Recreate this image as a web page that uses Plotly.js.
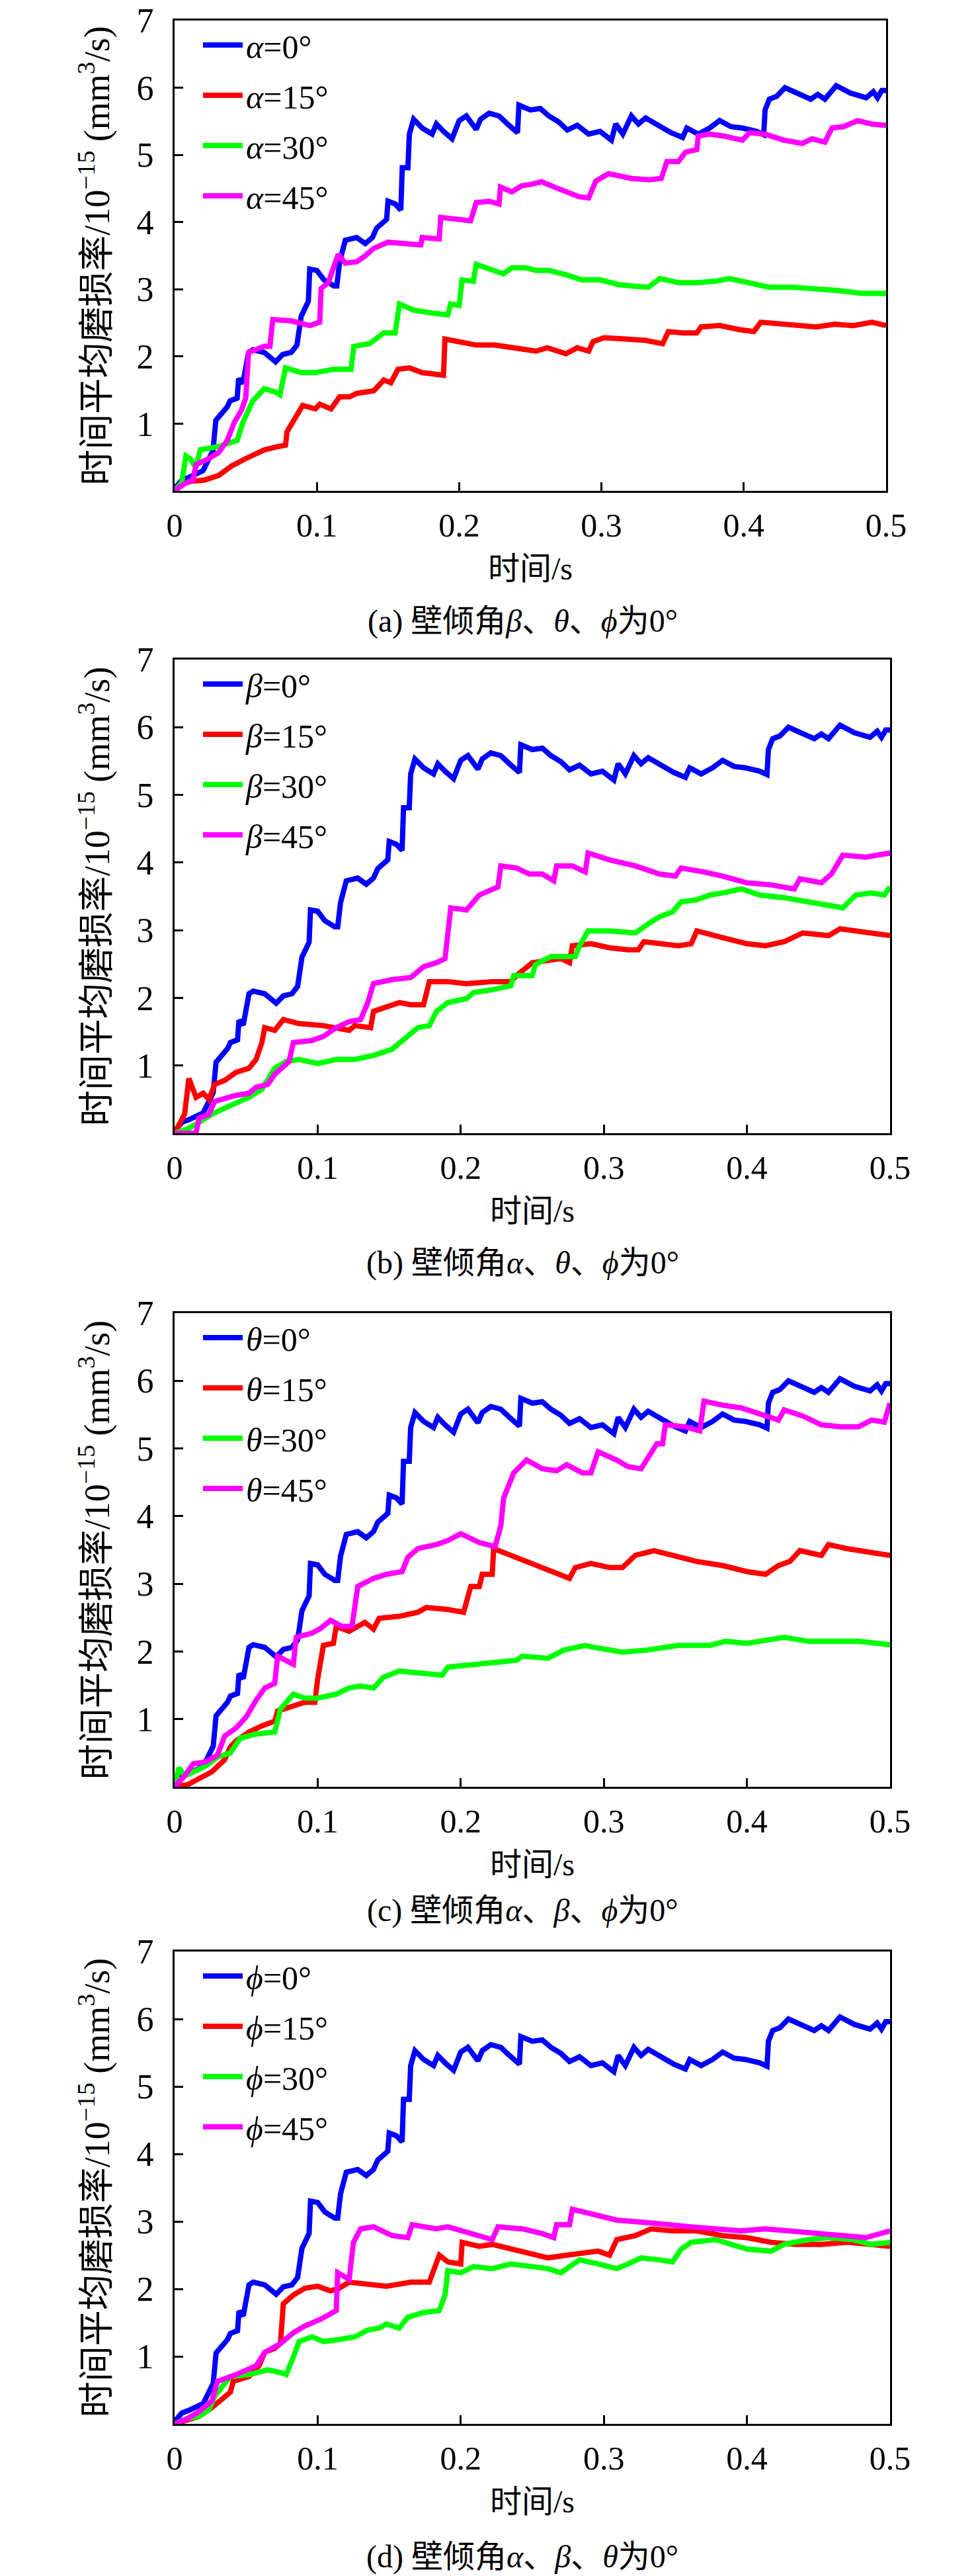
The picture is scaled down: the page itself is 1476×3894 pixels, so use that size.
<!DOCTYPE html>
<html>
<head>
<meta charset="utf-8">
<script src="https://cdn.plot.ly/plotly-3.0.1.min.js"></script>
<style>body{margin:0;background:#fff}</style>
</head>
<body>
<div id="chart" style="width:1476px;height:3894px"></div>
<script>
// --- data (time in s, wear rate in 1e-15 mm^3/s) ---
// the 0 degree case is the same curve in all four panels
const base_t = [0,0.005,0.01,0.02,0.027,0.029,0.037,0.039,0.044,0.045,
  0.048,0.052,0.055,0.063,0.071,0.076,0.082,0.086,0.089,0.094,
  0.095,0.1,0.105,0.112,0.114,0.116,0.12,0.128,0.134,0.139,
  0.142,0.149,0.15,0.155,0.159,0.16,0.164,0.165,0.168,0.174,
  0.181,0.184,0.189,0.195,0.2,0.205,0.212,0.215,0.221,0.228,
  0.234,0.241,0.242,0.25,0.257,0.263,0.27,0.276,0.283,0.291,
  0.299,0.307,0.31,0.315,0.321,0.326,0.331,0.341,0.349,0.357,
  0.36,0.368,0.376,0.383,0.391,0.399,0.409,0.414,0.415,0.418,
  0.423,0.429,0.437,0.447,0.452,0.457,0.465,0.475,0.486,0.491,
  0.494,0.497,0.5];
const base_v = [0.03,0.16,0.2,0.3,0.6,1.05,1.25,1.34,1.38,1.67,
  1.6,2.06,2.1,2.06,1.92,2.03,2.06,2.17,2.6,2.82,
  3.3,3.28,3.14,3.05,3.05,3.41,3.73,3.77,3.68,3.77,
  3.91,4.04,4.31,4.27,4.18,4.81,4.81,5.31,5.53,5.40,
  5.31,5.46,5.35,5.24,5.51,5.58,5.38,5.53,5.62,5.58,
  5.46,5.33,5.74,5.67,5.69,5.58,5.49,5.37,5.44,5.31,
  5.35,5.22,5.46,5.31,5.58,5.46,5.55,5.42,5.33,5.26,
  5.40,5.31,5.40,5.51,5.42,5.40,5.35,5.3,5.67,5.83,
  5.87,6.0,5.92,5.83,5.9,5.83,6.03,5.92,5.85,5.94,
  5.85,5.96,5.96];

// (a) alpha
const a15_t = [0,0.005,0.011,0.021,0.031,0.04,0.05,0.063,0.073,0.078,
  0.079,0.084,0.09,0.099,0.102,0.11,0.116,0.123,0.128,0.134,
  0.14,0.147,0.152,0.157,0.165,0.174,0.186,0.189,0.19,0.199,
  0.212,0.225,0.241,0.254,0.262,0.275,0.283,0.291,0.294,0.302,
  0.317,0.331,0.343,0.347,0.357,0.367,0.37,0.383,0.397,0.407,
  0.412,0.425,0.438,0.451,0.464,0.477,0.49,0.5];
const a15_v = [0,0.09,0.14,0.16,0.23,0.37,0.48,0.61,0.66,0.68,
  0.88,1.06,1.27,1.22,1.29,1.22,1.40,1.40,1.45,1.47,
  1.49,1.65,1.61,1.81,1.83,1.76,1.72,1.72,2.26,2.22,
  2.17,2.17,2.13,2.08,2.13,2.04,2.13,2.08,2.22,2.28,
  2.26,2.24,2.19,2.37,2.35,2.35,2.44,2.46,2.40,2.37,
  2.51,2.48,2.46,2.44,2.48,2.46,2.51,2.46];
const a30_t = [0,0.005,0.008,0.011,0.015,0.018,0.031,0.044,0.048,0.055,
  0.063,0.071,0.074,0.078,0.089,0.099,0.112,0.124,0.126,0.137,
  0.147,0.155,0.158,0.168,0.183,0.192,0.194,0.2,0.202,0.21,
  0.212,0.225,0.231,0.237,0.247,0.254,0.263,0.276,0.286,0.299,
  0.312,0.321,0.333,0.341,0.354,0.367,0.38,0.39,0.402,0.418,
  0.435,0.451,0.467,0.483,0.5];
const a30_v = [0,0.12,0.52,0.48,0.34,0.61,0.66,0.75,1.02,1.34,
  1.52,1.47,1.43,1.83,1.76,1.76,1.81,1.81,2.15,2.19,
  2.35,2.35,2.78,2.69,2.64,2.62,2.78,2.76,3.14,3.12,
  3.37,3.28,3.23,3.32,3.32,3.28,3.28,3.21,3.14,3.14,
  3.07,3.05,3.03,3.16,3.10,3.10,3.12,3.16,3.10,3.03,
  3.03,3.01,2.98,2.94,2.94];
const a45_t = [0,0.008,0.013,0.015,0.024,0.031,0.037,0.042,0.047,0.05,
  0.052,0.063,0.067,0.069,0.082,0.095,0.102,0.103,0.108,0.115,
  0.12,0.128,0.134,0.14,0.15,0.16,0.173,0.174,0.186,0.187,
  0.197,0.208,0.212,0.221,0.228,0.229,0.237,0.244,0.25,0.258,
  0.267,0.276,0.284,0.291,0.296,0.305,0.321,0.334,0.342,0.346,
  0.354,0.359,0.367,0.368,0.376,0.386,0.399,0.404,0.415,0.428,
  0.441,0.448,0.457,0.462,0.47,0.48,0.49,0.5];
const a45_v = [0,0.12,0.16,0.39,0.48,0.57,0.75,1.02,1.2,1.38,
  2.06,2.15,2.15,2.55,2.53,2.46,2.51,3.01,3.10,3.52,
  3.39,3.41,3.5,3.61,3.70,3.68,3.66,3.77,3.75,4.07,
  4.04,4.02,4.29,4.31,4.27,4.52,4.45,4.54,4.56,4.60,
  4.52,4.45,4.38,4.36,4.61,4.72,4.65,4.63,4.65,4.90,
  4.90,5.04,5.08,5.28,5.31,5.28,5.22,5.33,5.31,5.22,
  5.17,5.24,5.19,5.40,5.42,5.51,5.46,5.44];

// (b) beta
const b15_t = [0,0.004,0.007,0.01,0.015,0.02,0.024,0.028,0.035,0.043,
  0.052,0.057,0.061,0.063,0.07,0.076,0.087,0.104,0.122,0.126,
  0.137,0.139,0.15,0.157,0.165,0.174,0.178,0.191,0.204,0.222,
  0.235,0.239,0.25,0.261,0.27,0.276,0.278,0.291,0.304,0.317,
  0.324,0.328,0.339,0.352,0.361,0.365,0.383,0.4,0.413,0.426,
  0.439,0.457,0.465,0.478,0.491,0.5];
const b15_v = [0,0.16,0.28,0.81,0.53,0.59,0.50,0.72,0.78,0.90,
  0.96,1.09,1.34,1.56,1.52,1.68,1.62,1.59,1.52,1.59,
  1.56,1.80,1.87,1.93,1.90,1.90,2.24,2.24,2.21,2.24,
  2.24,2.33,2.52,2.55,2.58,2.52,2.77,2.80,2.74,2.71,
  2.71,2.83,2.80,2.77,2.80,2.99,2.89,2.80,2.77,2.83,
  2.96,2.92,3.02,2.99,2.96,2.92];
const b30_t = [0,0.009,0.017,0.026,0.035,0.043,0.052,0.061,0.07,0.078,
  0.087,0.1,0.113,0.126,0.139,0.152,0.161,0.17,0.178,0.183,
  0.191,0.204,0.209,0.222,0.235,0.237,0.25,0.252,0.263,0.28,
  0.283,0.289,0.304,0.322,0.33,0.339,0.348,0.354,0.365,0.374,
  0.383,0.396,0.409,0.426,0.443,0.461,0.467,0.476,0.487,0.496,
  0.5];
const b30_v = [0,0.06,0.16,0.28,0.37,0.44,0.53,0.65,0.96,1.06,
  1.09,1.03,1.09,1.09,1.15,1.24,1.40,1.56,1.59,1.80,
  1.93,1.99,2.08,2.12,2.18,2.33,2.33,2.49,2.61,2.61,
  2.77,2.99,2.99,2.96,3.08,3.20,3.27,3.42,3.45,3.52,
  3.55,3.61,3.52,3.48,3.42,3.36,3.33,3.52,3.55,3.52,
  3.64];
const b45_t = [0,0.015,0.017,0.024,0.028,0.043,0.052,0.057,0.065,0.07,
  0.08,0.083,0.096,0.104,0.113,0.122,0.13,0.135,0.139,0.152,
  0.165,0.174,0.183,0.189,0.193,0.204,0.213,0.226,0.228,0.239,
  0.248,0.257,0.265,0.267,0.278,0.287,0.289,0.304,0.322,0.339,
  0.35,0.354,0.37,0.383,0.4,0.417,0.433,0.437,0.452,0.459,
  0.467,0.483,0.5];
const b45_v = [0,0,0.22,0.28,0.47,0.56,0.59,0.68,0.72,0.87,
  1.06,1.34,1.37,1.43,1.56,1.65,1.68,1.93,2.21,2.27,
  2.30,2.46,2.52,2.58,3.33,3.30,3.52,3.64,3.95,3.92,
  3.83,3.83,3.73,3.95,3.95,3.86,4.14,4.04,3.95,3.83,
  3.80,3.92,3.86,3.80,3.70,3.67,3.61,3.76,3.70,3.83,
  4.11,4.08,4.14];

// (c) theta
const c15_t = [0,0.009,0.017,0.026,0.035,0.039,0.043,0.052,0.061,0.07,
  0.072,0.08,0.091,0.098,0.1,0.104,0.111,0.113,0.122,0.133,
  0.139,0.143,0.157,0.17,0.176,0.191,0.202,0.207,0.213,0.215,
  0.222,0.223,0.235,0.248,0.261,0.276,0.28,0.291,0.304,0.313,
  0.322,0.335,0.348,0.365,0.383,0.4,0.413,0.422,0.43,0.437,
  0.452,0.457,0.47,0.487,0.5];
const c15_v = [0,0.03,0.12,0.22,0.40,0.59,0.68,0.81,0.90,0.97,
  1.12,1.18,1.25,1.25,1.59,2.09,2.12,2.37,2.30,2.43,
  2.33,2.49,2.52,2.58,2.65,2.62,2.58,2.96,2.96,3.14,
  3.14,3.52,3.42,3.33,3.21,3.08,3.24,3.30,3.24,3.24,
  3.42,3.49,3.42,3.33,3.27,3.18,3.14,3.27,3.33,3.49,
  3.42,3.58,3.52,3.46,3.42];
const c30_t = [0,0.003,0.007,0.013,0.022,0.03,0.039,0.046,0.057,0.07,
  0.074,0.083,0.091,0.1,0.113,0.122,0.13,0.139,0.146,0.157,
  0.17,0.187,0.191,0.209,0.217,0.239,0.243,0.261,0.272,0.287,
  0.296,0.313,0.33,0.339,0.352,0.374,0.385,0.4,0.417,0.426,
  0.443,0.461,0.478,0.5];
const c30_v = [0,0.28,0.16,0.22,0.31,0.44,0.50,0.72,0.78,0.81,
  1.15,1.37,1.31,1.31,1.37,1.46,1.49,1.46,1.62,1.71,
  1.68,1.65,1.77,1.81,1.84,1.87,1.93,1.90,2.02,2.09,
  2.05,1.99,2.02,2.05,2.09,2.09,2.15,2.12,2.18,2.21,
  2.15,2.15,2.15,2.10];
const c45_t = [0,0.007,0.013,0.022,0.03,0.035,0.043,0.05,0.057,0.063,
  0.07,0.072,0.083,0.085,0.096,0.102,0.109,0.117,0.124,0.128,
  0.139,0.148,0.159,0.163,0.17,0.183,0.191,0.2,0.213,0.224,
  0.228,0.23,0.237,0.246,0.257,0.267,0.274,0.285,0.291,0.296,
  0.309,0.317,0.326,0.33,0.337,0.341,0.343,0.357,0.367,0.37,
  0.383,0.396,0.409,0.422,0.426,0.439,0.452,0.465,0.478,0.487,
  0.496,0.5];
const c45_v = [0,0.16,0.34,0.37,0.47,0.75,0.87,1.03,1.28,1.46,
  1.53,1.93,1.81,2.21,2.27,2.34,2.46,2.37,2.37,2.96,
  3.08,3.14,3.18,3.39,3.52,3.58,3.64,3.74,3.61,3.55,
  3.86,4.27,4.64,4.83,4.70,4.67,4.76,4.64,4.64,4.95,
  4.83,4.73,4.70,4.83,5.07,5.07,5.35,5.32,5.26,5.70,
  5.64,5.60,5.51,5.42,5.57,5.48,5.35,5.32,5.32,5.42,
  5.39,5.67];

// (d) phi
const d15_t = [0,0.009,0.017,0.026,0.033,0.039,0.041,0.052,0.059,0.063,
  0.07,0.074,0.076,0.083,0.091,0.1,0.109,0.115,0.122,0.135,
  0.148,0.157,0.165,0.178,0.185,0.191,0.2,0.201,0.213,0.222,
  0.235,0.248,0.261,0.274,0.287,0.296,0.304,0.309,0.322,0.333,
  0.348,0.365,0.383,0.4,0.417,0.435,0.452,0.47,0.487,0.5];
const d15_v = [0,0.05,0.11,0.24,0.37,0.47,0.63,0.70,0.86,1.06,
  1.12,1.19,1.78,1.91,2.01,2.04,1.97,2.01,2.10,2.07,
  2.04,2.07,2.10,2.10,2.50,2.40,2.37,2.69,2.63,2.66,
  2.59,2.53,2.46,2.50,2.53,2.56,2.50,2.73,2.79,2.89,
  2.86,2.86,2.79,2.76,2.69,2.66,2.66,2.69,2.66,2.63];
const d30_t = [0,0.009,0.017,0.024,0.028,0.039,0.052,0.065,0.074,0.078,
  0.083,0.087,0.096,0.104,0.115,0.126,0.135,0.143,0.148,0.157,
  0.163,0.174,0.185,0.189,0.191,0.2,0.209,0.222,0.235,0.248,
  0.261,0.27,0.283,0.296,0.309,0.317,0.326,0.339,0.348,0.354,
  0.361,0.378,0.4,0.417,0.426,0.443,0.457,0.474,0.487,0.5];
const d30_v = [0,0.08,0.11,0.21,0.41,0.70,0.73,0.80,0.76,0.73,
  0.99,1.22,1.29,1.22,1.25,1.29,1.39,1.42,1.48,1.42,
  1.58,1.65,1.68,1.91,2.27,2.24,2.33,2.30,2.37,2.33,
  2.30,2.24,2.43,2.37,2.30,2.37,2.46,2.43,2.40,2.59,
  2.69,2.73,2.59,2.56,2.66,2.73,2.76,2.73,2.66,2.69];
const d45_t = [0,0.009,0.017,0.026,0.03,0.043,0.057,0.063,0.074,0.083,
  0.091,0.102,0.113,0.114,0.122,0.125,0.13,0.139,0.152,0.163,
  0.166,0.183,0.191,0.209,0.222,0.226,0.243,0.257,0.265,0.267,
  0.276,0.278,0.291,0.309,0.326,0.343,0.361,0.378,0.396,0.413,
  0.43,0.448,0.465,0.483,0.5];
const d45_v = [0,0.08,0.18,0.34,0.63,0.73,0.86,1.06,1.19,1.35,
  1.45,1.55,1.68,2.24,2.14,2.69,2.89,2.92,2.79,2.76,
  2.95,2.89,2.92,2.82,2.73,2.92,2.89,2.82,2.76,2.95,
  2.95,3.18,3.12,3.02,2.99,2.95,2.92,2.89,2.86,2.89,
  2.86,2.82,2.79,2.76,2.86];

const angles = ['0°', '15°', '30°', '45°'];
const greek = ['α', 'β', 'θ', 'ϕ'];
const colors = ['#0000ff', '#ff0000', '#00ff00', '#ff00ff'];
const captions = [
  '(a) 壁倾角<i>β</i>、<i>θ</i>、<i>ϕ</i>为0°',
  '(b) 壁倾角<i>α</i>、<i>θ</i>、<i>ϕ</i>为0°',
  '(c) 壁倾角<i>α</i>、<i>β</i>、<i>ϕ</i>为0°',
  '(d) 壁倾角<i>α</i>、<i>β</i>、<i>θ</i>为0°'
];
const xTicks = [0, 0.1, 0.2, 0.3, 0.4, 0.5];
const yTicks = [1, 2, 3, 4, 5, 6, 7];
const xTitle = '时间/s';
const yTitle = '时间平均磨损率/10<sup>−15</sup> (mm<sup>3</sup>/s)';

const series = [
  [[base_t, base_v], [a15_t, a15_v], [a30_t, a30_v], [a45_t, a45_v]],
  [[base_t, base_v], [b15_t, b15_v], [b30_t, b30_v], [b45_t, b45_v]],
  [[base_t, base_v], [c15_t, c15_v], [c30_t, c30_v], [c45_t, c45_v]],
  [[base_t, base_v], [d15_t, d15_v], [d30_t, d30_v], [d45_t, d45_v]]
];

// --- page geometry (pixels) ---
const W = 1476, H = 3894;
const LEFT = 264;
const boxes = [
  {top: 31, bottom: 742, right: 1340, cap: 939},
  {top: 997, bottom: 1713, right: 1346, cap: 1909},
  {top: 1985, bottom: 2701, right: 1346, cap: 2888},
  {top: 2950, bottom: 3664, right: 1346, cap: 3865}
];

const SERIF = 'Liberation Serif, Times New Roman, Noto Sans CJK SC, serif';

const traces = [];
const layout = {
  width: W, height: H,
  margin: {l: 0, r: 0, t: 0, b: 0},
  paper_bgcolor: '#fff', plot_bgcolor: '#fff',
  font: {family: SERIF, color: '#000'},
  annotations: []
};

boxes.forEach((b, i) => {
  const n = i + 1;
  const sfx = n > 1 ? String(n) : '';
  const legName = 'legend' + sfx;

  series[i].forEach((s, j) => {
    traces.push({
      type: 'scatter', mode: 'lines',
      x: s[0], y: s[1],
      xaxis: 'x' + sfx, yaxis: 'y' + sfx,
      name: '<i>' + greek[i] + '</i>=' + angles[j],
      legend: legName,
      legendgroup: 'g' + n + '_' + j,
      line: {color: colors[j], width: 8}
    });
  });

  layout['xaxis' + sfx] = {
    domain: [LEFT / W, b.right / W],
    anchor: 'y' + sfx,
    range: [0, 0.5],
    tickvals: xTicks, ticktext: xTicks.map(String),
    ticks: 'inside', ticklen: 13, tickwidth: 3, tickcolor: '#000',
    ticklabelstandoff: 6,
    showline: true, linewidth: 3, linecolor: '#000', mirror: true,
    showgrid: false, zeroline: false,
    tickfont: {family: SERIF, size: 50, color: '#000'},
    title: {text: xTitle, font: {family: SERIF, size: 48, color: '#000'}, standoff: 22}
  };
  layout['yaxis' + sfx] = {
    domain: [1 - b.bottom / H, 1 - b.top / H],
    anchor: 'x' + sfx,
    range: [0, 7],
    tickvals: yTicks, ticktext: yTicks.map(String),
    ticks: 'inside', ticklen: 13, tickwidth: 3, tickcolor: '#000',
    ticklabelstandoff: 18,
    showline: true, linewidth: 3, linecolor: '#000', mirror: true,
    showgrid: false, zeroline: false,
    tickfont: {family: SERIF, size: 52, color: '#000'},
    title: {text: yTitle, font: {family: SERIF, size: 54, color: '#000'}, standoff: 24}
  };
  layout[legName] = {
    x: 302 / W, y: 1 - (b.top - 2) / H,
    xanchor: 'left', yanchor: 'top',
    bgcolor: 'rgba(0,0,0,0)', borderwidth: 0,
    itemwidth: 60, tracegroupgap: 8,
    font: {family: SERIF, size: 50, color: '#000'}
  };
  layout.annotations.push({
    xref: 'paper', yref: 'paper',
    x: 790 / W, y: 1 - b.cap / H,
    xanchor: 'center', yanchor: 'middle',
    showarrow: false,
    text: captions[i],
    font: {family: SERIF, size: 48, color: '#000'}
  });
});

Plotly.newPlot('chart', traces, layout, {staticPlot: true});
</script>
</body>
</html>
